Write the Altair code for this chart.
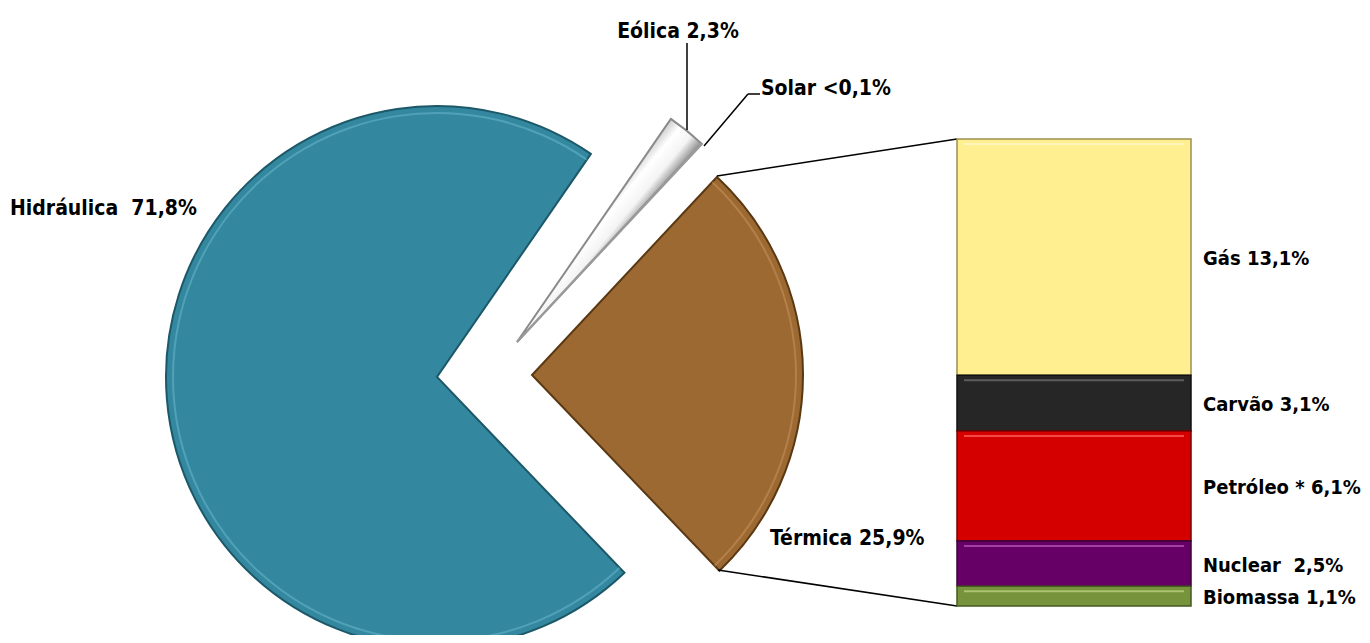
import math
import altair as alt
import pandas as pd

# ---------------- data ----------------
pie_names = ["Hidráulica", "Eólica", "Solar", "Térmica"]
pie_values = [71.8, 2.3, 0.05, 25.9]
pie_labels = ["Hidráulica\u00a0 71,8%", "Eólica 2,3%", "Solar <0,1%", "Térmica 25,9%"]

bar_names = ["Gás", "Carvão", "Petróleo", "Nuclear", "Biomassa"]
bar_values = [13.1, 3.1, 6.1, 2.5, 1.1]
bar_labels = ["Gás 13,1%", "Carvão 3,1%", "Petróleo * 6,1%", "Nuclear\u00a0 2,5%", "Biomassa 1,1%"]

# ---------------- tables ----------------
pie_df = pd.DataFrame({"name": pie_names, "value": pie_values, "label": pie_labels})
pie_df["end"] = pie_df["value"].cumsum()
pie_df["start"] = pie_df["end"] - pie_df["value"]

bar_df = pd.DataFrame({"name": bar_names, "value": bar_values, "label": bar_labels})
bar_df["end"] = bar_df["value"].cumsum()
bar_df["start"] = bar_df["end"] - bar_df["value"]
bar_df["mid"] = (bar_df["start"] + bar_df["end"]) / 2

# ---------------- layout / style ----------------
M = 8  # page margin
W, H = 1354, 627
R = 271
FONT = "DejaVu Sans Condensed"
FS = 21
FS_BAR = 20

a0 = math.radians(136.24)
theta_scale = alt.Scale(domain=[0, float(sum(pie_values))], range=[a0, a0 + 2 * math.pi])

centers = {
    "Hidráulica": (437, 377),
    "Eólica": (517, 342),
    "Solar": (517, 342),
    "Térmica": (532, 375),
}
pie_fill = {
    "Hidráulica": "#33889F",
    "Térmica": "#9C6933",
    "Solar": "#d9d9d9",
    "Eólica": alt.Gradient(
        gradient="linear",
        stops=[
            alt.GradientStop(color="#a0a0a0", offset=0.38),
            alt.GradientStop(color="#ffffff", offset=0.46),
            alt.GradientStop(color="#f4f4f4", offset=0.51),
            alt.GradientStop(color="#6e6e6e", offset=0.57),
        ],
        x1=0, y1=0, x2=1, y2=1,
    ),
}
pie_stroke = {
    "Hidráulica": "#1d5868",
    "Térmica": "#5a3812",
    "Solar": "#9a9a9a",
    "Eólica": "#8a8a8a",
}
pie_hi = {"Hidráulica": "#7cc8dc", "Térmica": "#d9a36a"}

layers = []
for n in pie_names:
    cx, cy = centers[n]
    layers.append(
        alt.Chart(pie_df)
        .transform_filter(alt.datum.name == n)
        .mark_arc(radius=R, fill=pie_fill[n], stroke=pie_stroke[n], strokeWidth=2)
        .encode(
            theta=alt.Theta("start:Q", scale=theta_scale),
            theta2="end:Q",
            x=alt.value(cx - M),
            y=alt.value(cy - M),
        )
    )
    if n in pie_hi:
        layers.append(
            alt.Chart(pie_df)
            .transform_filter(alt.datum.name == n)
            .mark_arc(radius=R - 6, radius2=R - 8, fill=pie_hi[n], opacity=0.4)
            .encode(
                theta=alt.Theta("start:Q", scale=theta_scale),
                theta2="end:Q",
                x=alt.value(cx - M),
                y=alt.value(cy - M),
            )
        )

# stacked bar
bx0, bx1 = 957 - M, 1191 - M
y_scale = alt.Scale(domain=[0, float(sum(bar_values))], range=[139 - M, 606 - M])
bar_fill = ["#FFEF91", "#262626", "#D40000", "#660066", "#77933C"]
bar_edge = ["#9c9050", "#111111", "#7a0000", "#3a003a", "#445a20"]
bar_hi = ["#fff7c8", "#6a6a6a", "#ff5a5a", "#b050b0", "#b5d07a"]

bars = (
    alt.Chart(bar_df)
    .mark_rect(strokeWidth=1.5)
    .encode(
        y=alt.Y("start:Q", scale=y_scale, axis=None),
        y2="end:Q",
        x=alt.value(bx0),
        x2=alt.value(bx1),
        fill=alt.Fill("name:N", scale=alt.Scale(domain=bar_names, range=bar_fill), legend=None),
        stroke=alt.Stroke("name:N", scale=alt.Scale(domain=bar_names, range=bar_edge), legend=None),
    )
)
bar_hl = (
    alt.Chart(bar_df)
    .mark_rule(strokeWidth=2, yOffset=5, opacity=0.8)
    .encode(
        y=alt.Y("start:Q", scale=y_scale, axis=None),
        x=alt.value(bx0 + 7),
        x2=alt.value(bx1 - 7),
        stroke=alt.Stroke("name:N", scale=alt.Scale(domain=bar_names, range=bar_hi), legend=None),
    )
)
bar_text = (
    alt.Chart(bar_df)
    .mark_text(align="left", baseline="alphabetic", dy=8, font=FONT, fontWeight="bold", fontSize=FS_BAR, color="#000000")
    .encode(
        y=alt.Y("mid:Q", scale=y_scale, axis=None),
        x=alt.value(1203 - M),
        text="label:N",
    )
)

# leader / connector lines (page coordinates)
segments = [
    ((687, 43), (687, 130)),
    ((704, 146), (748, 94)),
    ((748, 94), (760, 94)),
    ((717, 176), (957, 139)),
    ((718, 570), (957, 606)),
]
rules = []
for (x1, y1), (x2, y2) in segments:
    rules.append(
        alt.Chart(pie_df.head(1))
        .mark_rule(color="#000000", strokeWidth=1.5)
        .encode(x=alt.value(x1 - M), y=alt.value(y1 - M), x2=alt.value(x2 - M), y2=alt.value(y2 - M))
    )

# pie labels
label_pos = {
    "Hidráulica": (10, 215, "left"),
    "Eólica": (678, 38, "center"),
    "Solar": (761, 95, "left"),
    "Térmica": (770, 545, "left"),
}
texts = []
for n in pie_names:
    x, y, al = label_pos[n]
    texts.append(
        alt.Chart(pie_df)
        .transform_filter(alt.datum.name == n)
        .mark_text(align=al, baseline="alphabetic", font=FONT, fontWeight="bold", fontSize=FS, color="#000000")
        .encode(x=alt.value(x - M), y=alt.value(y - M), text="label:N")
    )

chart = (
    alt.layer(*layers, *rules, bars, bar_hl, bar_text, *texts)
    .resolve_scale(stroke="independent")
    .properties(width=W, height=H, padding=0, autosize=alt.AutoSizeParams(type="none"), background="#ffffff")
    .configure_view(stroke=None)
)

chart.save("out.html", embed_options={"renderer": "svg", "actions": False})
